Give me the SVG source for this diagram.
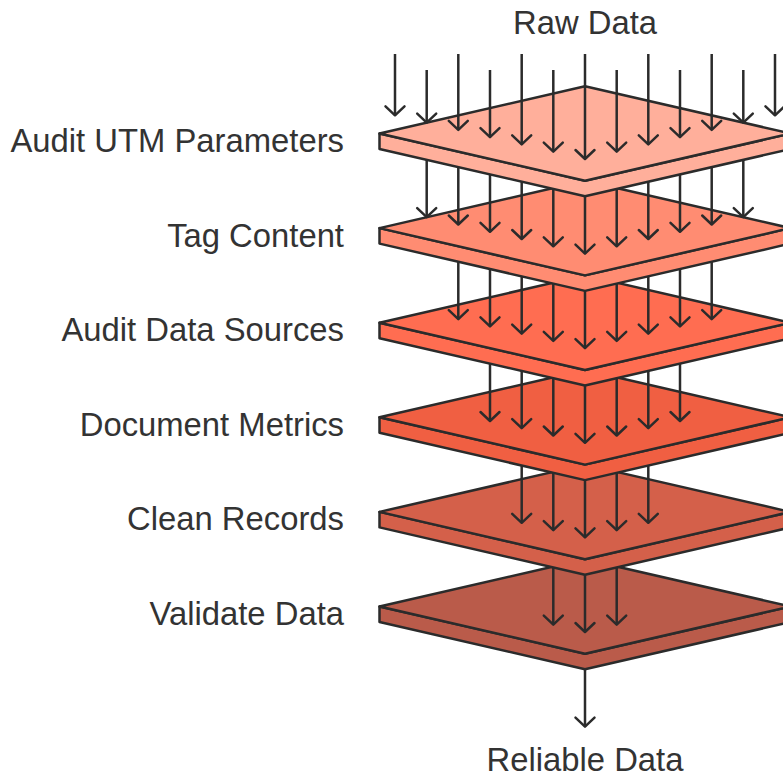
<svg xmlns="http://www.w3.org/2000/svg" xmlns:xlink="http://www.w3.org/1999/xlink" width="783" height="777" viewBox="0 0 783 777">
  <style>
    .edge { stroke: #2b2b2b; stroke-width: 2.5; stroke-linejoin: round; }
    .flow { stroke: #2b2b2b; stroke-width: 2.5; fill: none; marker-end: url(#chevron); }
    .label { font-family: "Liberation Sans", Arial, sans-serif; font-size: 32.8px; fill: #333333; }
    .step { text-anchor: end; }
    .io { text-anchor: middle; }
  </style>
  <defs>
    <!-- open arrowhead for the downward data flows -->
    <marker id="chevron" markerUnits="userSpaceOnUse" orient="auto" refX="0" refY="0" markerWidth="24" markerHeight="24" viewBox="-12 -12 24 24" overflow="visible">
      <path d="M-9,-9.5 L0,0 L-9,9.5" fill="none" stroke="#2b2b2b" stroke-width="2.5" stroke-linejoin="round" stroke-linecap="round"/>
    </marker>
    <!-- isometric filter plate, centred on its left/right corner line -->
    <g id="plate">
      <path class="edge" d="M-205.5,0 V15.5 L0,62.8 L205.5,15.5 V0 L0,47.3 Z"/>
      <path class="edge" d="M-205.5,0 L0,-47.3 L205.5,0 L0,47.3 Z"/>
    </g>
  </defs>

  <rect width="783" height="777" fill="#ffffff"/>

  <!-- plates, drawn from the bottom up so upper plates overlap lower ones -->
  <g id="validate-data">
    <use xlink:href="#plate" transform="translate(585,606.5)" fill="#BA5B4A"/>
    <text class="label step" x="344" y="624.8">Validate Data</text>
  </g>
  <g id="clean-records">
    <use xlink:href="#plate" transform="translate(585,511.9)" fill="#D4604A"/>
    <text class="label step" x="344" y="530.3">Clean Records</text>
  </g>
  <g id="document-metrics">
    <use xlink:href="#plate" transform="translate(585,417.3)" fill="#F05F42"/>
    <text class="label step" x="344" y="435.8">Document Metrics</text>
  </g>
  <g id="audit-data-sources">
    <use xlink:href="#plate" transform="translate(585,322.7)" fill="#FF6D51"/>
    <text class="label step" x="344" y="341.3">Audit Data Sources</text>
  </g>
  <g id="tag-content">
    <use xlink:href="#plate" transform="translate(585,228.1)" fill="#FF8C72"/>
    <text class="label step" x="344" y="246.8">Tag Content</text>
  </g>
  <g id="audit-utm-parameters">
    <use xlink:href="#plate" transform="translate(585,133.5)" fill="#FFAF9B"/>
    <text class="label step" x="344" y="152.3">Audit UTM Parameters</text>
  </g>

  <g id="raw-data">
    <text class="label io" x="585" y="34.3">Raw Data</text>
  </g>
  <g id="reliable-data">
    <text class="label io" x="585" y="771">Reliable Data</text>
  </g>

  <g id="connectors">
    <!-- raw data onto the first plate -->
    <line class="flow" x1="395" y1="54" x2="395" y2="115.3"/>
    <line class="flow" x1="426.7" y1="70" x2="426.7" y2="122.6"/>
    <line class="flow" x1="458.3" y1="54" x2="458.3" y2="129.9"/>
    <line class="flow" x1="490" y1="70" x2="490" y2="137.2"/>
    <line class="flow" x1="521.7" y1="54" x2="521.7" y2="144.4"/>
    <line class="flow" x1="553.3" y1="70" x2="553.3" y2="151.7"/>
    <line class="flow" x1="585" y1="54" x2="585" y2="159"/>
    <line class="flow" x1="616.7" y1="70" x2="616.7" y2="151.7"/>
    <line class="flow" x1="648.3" y1="54" x2="648.3" y2="144.4"/>
    <line class="flow" x1="680" y1="70" x2="680" y2="137.2"/>
    <line class="flow" x1="711.7" y1="54" x2="711.7" y2="129.9"/>
    <line class="flow" x1="743.3" y1="70" x2="743.3" y2="122.6"/>
    <line class="flow" x1="775" y1="54" x2="775" y2="115.3"/>

    <!-- Audit UTM Parameters -> Tag Content -->
    <line class="flow" x1="426.7" y1="159.8" x2="426.7" y2="217.2"/>
    <line class="flow" x1="458.3" y1="167.1" x2="458.3" y2="224.5"/>
    <line class="flow" x1="490" y1="174.4" x2="490" y2="231.8"/>
    <line class="flow" x1="521.7" y1="181.7" x2="521.7" y2="239"/>
    <line class="flow" x1="553.3" y1="189" x2="553.3" y2="246.3"/>
    <line class="flow" x1="585" y1="196.3" x2="585" y2="253.6"/>
    <line class="flow" x1="616.7" y1="189" x2="616.7" y2="246.3"/>
    <line class="flow" x1="648.3" y1="181.7" x2="648.3" y2="239"/>
    <line class="flow" x1="680" y1="174.4" x2="680" y2="231.8"/>
    <line class="flow" x1="711.7" y1="167.1" x2="711.7" y2="224.5"/>
    <line class="flow" x1="743.3" y1="159.8" x2="743.3" y2="217.2"/>

    <!-- Tag Content -> Audit Data Sources -->
    <line class="flow" x1="458.3" y1="261.7" x2="458.3" y2="319.1"/>
    <line class="flow" x1="490" y1="269" x2="490" y2="326.4"/>
    <line class="flow" x1="521.7" y1="276.3" x2="521.7" y2="333.6"/>
    <line class="flow" x1="553.3" y1="283.6" x2="553.3" y2="340.9"/>
    <line class="flow" x1="585" y1="290.9" x2="585" y2="348.2"/>
    <line class="flow" x1="616.7" y1="283.6" x2="616.7" y2="340.9"/>
    <line class="flow" x1="648.3" y1="276.3" x2="648.3" y2="333.6"/>
    <line class="flow" x1="680" y1="269" x2="680" y2="326.4"/>
    <line class="flow" x1="711.7" y1="261.7" x2="711.7" y2="319.1"/>

    <!-- Audit Data Sources -> Document Metrics -->
    <line class="flow" x1="490" y1="363.6" x2="490" y2="421"/>
    <line class="flow" x1="521.7" y1="370.9" x2="521.7" y2="428.2"/>
    <line class="flow" x1="553.3" y1="378.2" x2="553.3" y2="435.5"/>
    <line class="flow" x1="585" y1="385.5" x2="585" y2="442.8"/>
    <line class="flow" x1="616.7" y1="378.2" x2="616.7" y2="435.5"/>
    <line class="flow" x1="648.3" y1="370.9" x2="648.3" y2="428.2"/>
    <line class="flow" x1="680" y1="363.6" x2="680" y2="421"/>

    <!-- Document Metrics -> Clean Records -->
    <line class="flow" x1="521.7" y1="465.5" x2="521.7" y2="522.8"/>
    <line class="flow" x1="553.3" y1="472.8" x2="553.3" y2="530.1"/>
    <line class="flow" x1="585" y1="480.1" x2="585" y2="537.4"/>
    <line class="flow" x1="616.7" y1="472.8" x2="616.7" y2="530.1"/>
    <line class="flow" x1="648.3" y1="465.5" x2="648.3" y2="522.8"/>

    <!-- Clean Records -> Validate Data -->
    <line class="flow" x1="553.3" y1="567.4" x2="553.3" y2="624.7"/>
    <line class="flow" x1="585" y1="574.7" x2="585" y2="632"/>
    <line class="flow" x1="616.7" y1="567.4" x2="616.7" y2="624.7"/>

    <!-- Validate Data -> Reliable Data -->
    <line class="flow" x1="585" y1="669.3" x2="585" y2="726.7"/>
  </g>
</svg>
